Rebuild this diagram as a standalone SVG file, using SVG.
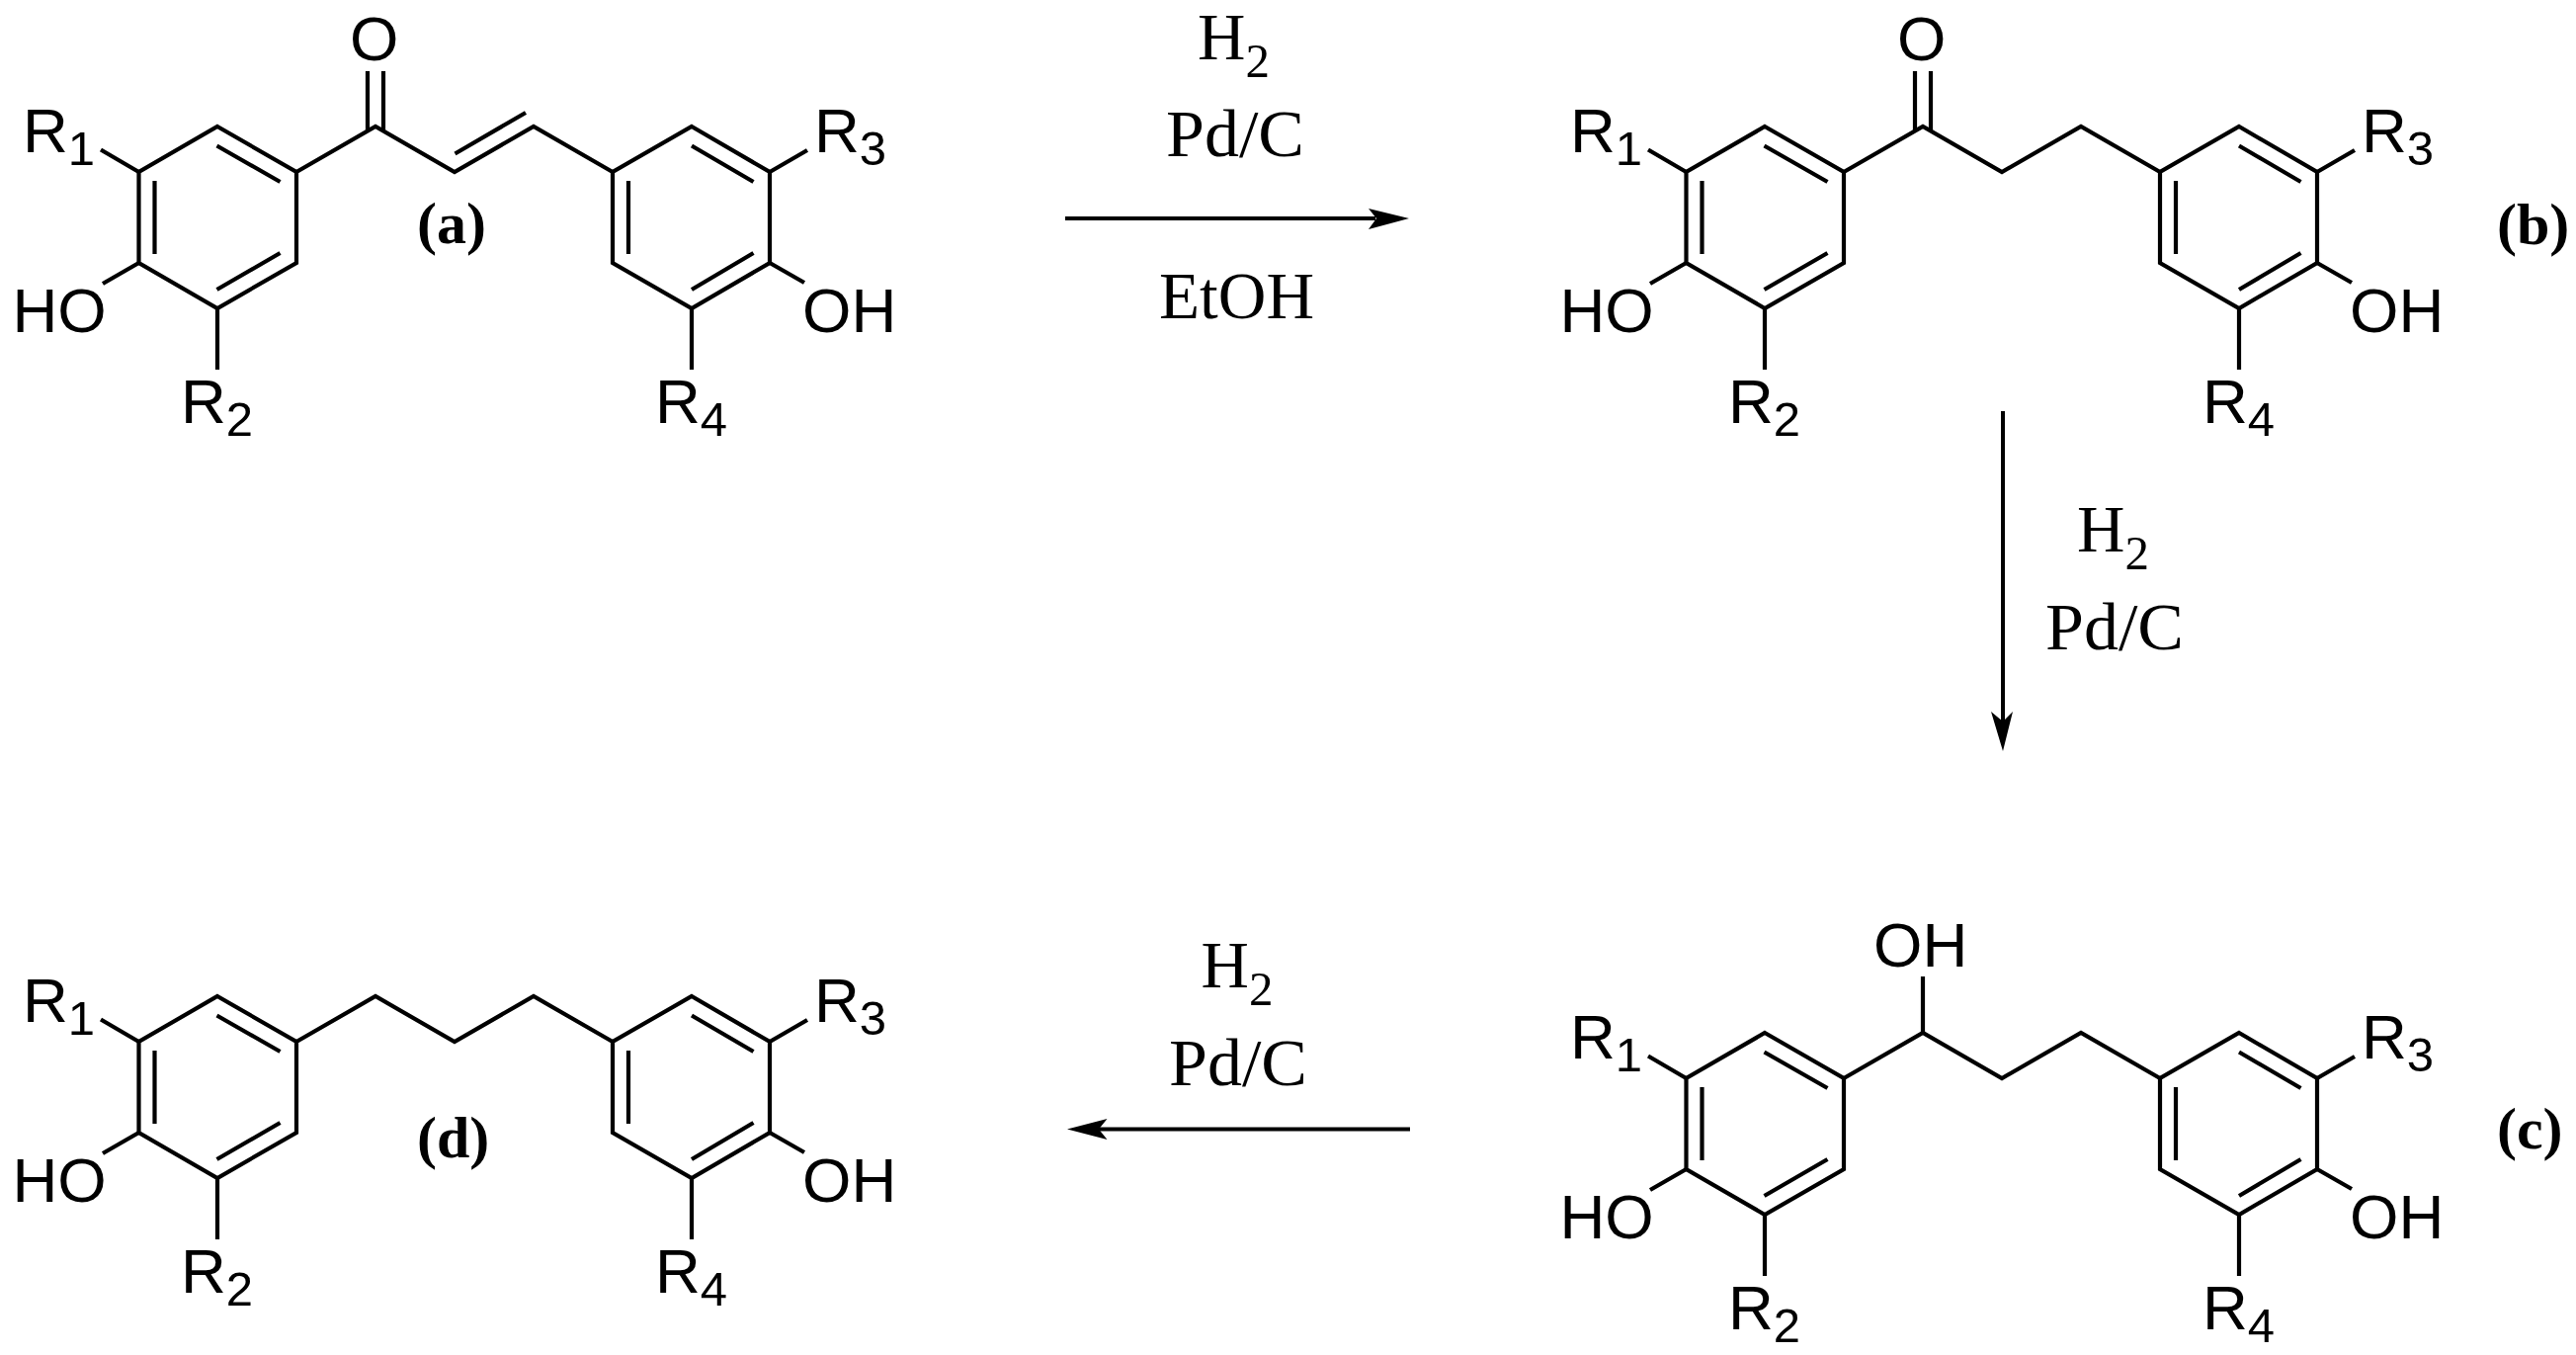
<svg xmlns="http://www.w3.org/2000/svg" xmlns:xlink="http://www.w3.org/1999/xlink" width="2607" height="1371" viewBox="0 0 2607 1371">
<style>
.bond{fill:none;stroke:#000;stroke-width:4.2;stroke-linejoin:miter;stroke-miterlimit:10}
.arrow{fill:none;stroke:#000;stroke-width:4}
.head{fill:#000;stroke:none}
.atom{font-family:"Liberation Sans",Arial,sans-serif;font-size:63.5px;fill:#000}
.sub{font-size:49px}
.reagent{font-family:"Liberation Serif","Times New Roman",serif;font-size:67px;fill:#000}
.rsub{font-size:49px}
.tag{font-family:"Liberation Serif","Times New Roman",serif;font-size:60px;font-weight:bold;fill:#000}
</style>
<defs>
<g id="skeleton">
<path class="bond" d="M220,128L300,174V266L220,312L140.5,266V174Z"/>
<path class="bond" d="M156.5,183V257M219.5,147.5L283.5,184M283.5,256L219.5,293"/>
<path class="bond" d="M700,128L779,174V266L700,312L620,266V174Z"/>
<path class="bond" d="M636,183V257M700,147.5L762.5,184M762.5,256L700,293"/>
<path class="bond" d="M140.5,174L102,151.5M140.5,266L104,287M220,312V374M779,174L817,152M779,266L814,286M700,312V374"/>
<path class="bond" d="M300,174L380,128L460,174L540,128L620,174"/>
</g>
<g id="labels">
<text class="atom" x="23" y="153.5">R<tspan class="sub" dy="13.5">1</tspan></text>
<text class="atom" x="12.5" y="336">HO</text>
<text class="atom" x="183" y="427.5">R<tspan class="sub" dy="13.5">2</tspan></text>
<text class="atom" x="824" y="153.5">R<tspan class="sub" dy="13.5">3</tspan></text>
<text class="atom" x="812" y="336">OH</text>
<text class="atom" x="663" y="427.5">R<tspan class="sub" dy="13.5">4</tspan></text>
</g>
</defs>
<rect width="2607" height="1371" fill="#fff"/>
<g id="molecule-a">
<use href="#skeleton"/>
<path class="bond" d="M372,72V133M388,72V133M460.5,155.5L532,114"/>
<use href="#labels"/>
<text class="atom" x="354" y="60.5">O</text>
<text class="tag" x="422" y="246">(a)</text>
</g>
<g id="molecule-b">
<g transform="translate(1566,0)">
<use href="#skeleton"/>
<path class="bond" d="M372,72V133M388,72V133"/>
<use href="#labels"/>
<text class="atom" x="354" y="60.5">O</text>
</g>
<text class="tag" x="2527" y="247">(b)</text>
</g>
<g id="molecule-c">
<g transform="translate(1566,917)">
<use href="#skeleton"/>
<path class="bond" d="M380,128V71"/>
<use href="#labels"/>
<text class="atom" x="330" y="61">OH</text>
</g>
<text class="tag" x="2527" y="1162">(c)</text>
</g>
<g id="molecule-d">
<g transform="translate(0,880)">
<use href="#skeleton"/>
<use href="#labels"/>
</g>
<text class="tag" x="422" y="1171">(d)</text>
</g>
<g id="connectors">
<path class="arrow" d="M1078,221H1392"/>
<path class="head" d="M1426,221L1385,211L1393,221L1385,232Z"/>
<path class="arrow" d="M2027,416V730"/>
<path class="head" d="M2027,760L2015,720L2027,730L2037,720Z"/>
<path class="arrow" d="M1427,1142.5H1112"/>
<path class="head" d="M1080,1142.5L1120.5,1132L1112,1142.5L1120.5,1153Z"/>
</g>
<g id="reagents-ab">
<text class="reagent" x="1212" y="60">H<tspan class="rsub" dy="18">2</tspan></text>
<text class="reagent" x="1180" y="158" textLength="140" lengthAdjust="spacingAndGlyphs">Pd/C</text>
<text class="reagent" x="1173" y="322" textLength="157" lengthAdjust="spacingAndGlyphs">EtOH</text>
</g>
<g id="reagents-bc">
<text class="reagent" x="2102" y="558">H<tspan class="rsub" dy="18">2</tspan></text>
<text class="reagent" x="2070" y="657" textLength="140" lengthAdjust="spacingAndGlyphs">Pd/C</text>
</g>
<g id="reagents-cd">
<text class="reagent" x="1215.5" y="999">H<tspan class="rsub" dy="18">2</tspan></text>
<text class="reagent" x="1183" y="1097.5" textLength="140" lengthAdjust="spacingAndGlyphs">Pd/C</text>
</g>
</svg>
